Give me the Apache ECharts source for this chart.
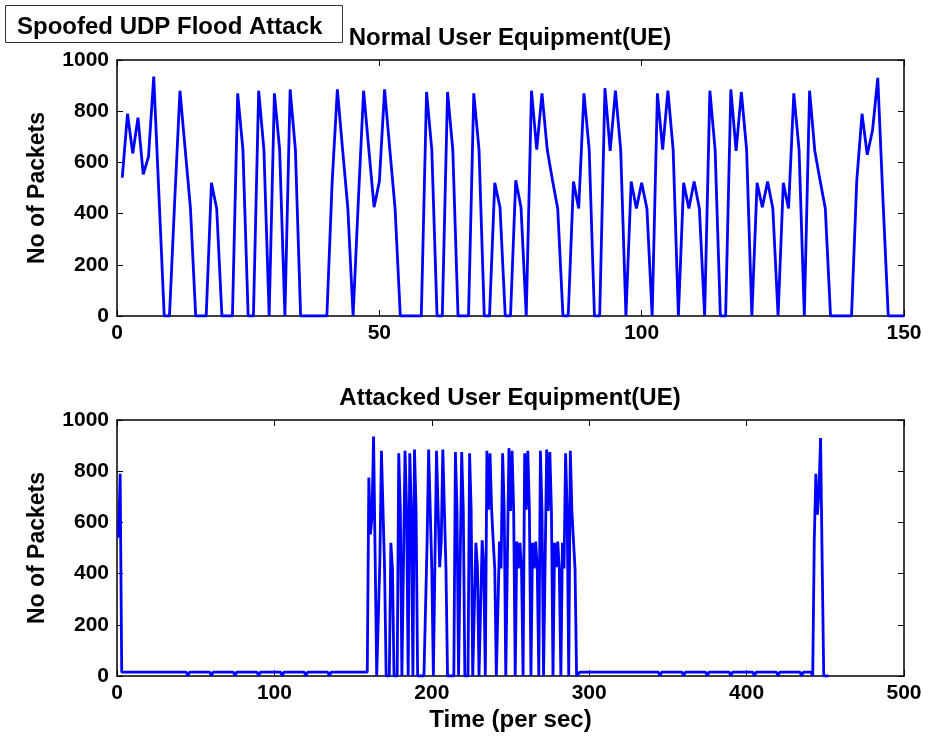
<!DOCTYPE html>
<html>
<head>
<meta charset="utf-8">
<script src="https://cdn.jsdelivr.net/npm/echarts@6/dist/echarts.min.js"></script>
<style>
html,body{margin:0;padding:0;background:#fff;}
#chart{width:928px;height:739px;}
</style>
</head>
<body>
<div id="chart"></div>
<script>
// ---- data ----
const figureLabel = 'Spoofed UDP Flood Attack';
const titleNormal = 'Normal User Equipment(UE)';
const titleAttacked = 'Attacked User Equipment(UE)';
const xAxisName = 'Time (per sec)';
const yAxisName = 'No of Packets';

const normalTicksX = [0, 50, 100, 150];
const attackedTicksX = [0, 100, 200, 300, 400, 500];
const packetTicks = [0, 200, 400, 600, 800, 1000];

// Normal UE: packets at t = 1 .. 150
const normalTime = [
  1,2,3,4,5,6,7,8,9,10,11,12,13,14,15,16,17,18,19,20,
  21,22,23,24,25,26,27,28,29,30,31,32,33,34,35,36,37,38,39,40,
  41,42,43,44,45,46,47,48,49,50,51,52,53,54,55,56,57,58,59,60,
  61,62,63,64,65,66,67,68,69,70,71,72,73,74,75,76,77,78,79,80,
  81,82,83,84,85,86,87,88,89,90,91,92,93,94,95,96,97,98,99,100,
  101,102,103,104,105,106,107,108,109,110,111,112,113,114,115,116,117,118,119,120,
  121,122,123,124,125,126,127,128,129,130,131,132,133,134,135,136,137,138,139,140,
  141,142,143,144,145,146,147,148,149,150
];
const normalPackets = [
  540,790,635,775,553,622,935,470,0,0,450,880,650,420,0,0,0,520,420,0,
  0,0,870,650,0,0,880,650,0,870,650,0,885,650,0,0,0,0,0,0,
  520,885,650,420,0,450,880,650,425,525,885,650,420,0,0,0,0,0,875,650,
  0,0,875,650,0,0,0,870,650,0,0,520,425,0,0,530,425,0,880,650,
  870,650,530,420,0,0,525,420,870,650,0,0,890,645,880,650,0,525,420,520,
  420,0,870,650,880,650,0,520,420,525,420,0,880,650,0,0,885,645,875,650,
  0,520,425,525,420,0,520,420,870,650,0,880,645,530,420,0,0,0,0,0,
  530,790,630,725,930,450,0,0,0,0
];

// Attacked UE: [time, packets]
const attackedTime = [
  1,2,3,44,45,46,59,60,61,74,75,76,89,90,91,104,105,106,119,120,121,134,135,136,159,
  160,161,162,163,164,165,166,167,168,169,170,171,172,173,174,175,176,177,178,179,
  180,181,182,183,184,185,186,187,188,189,190,191,192,193,194,195,196,197,198,199,
  200,201,202,203,204,205,206,207,208,209,210,211,212,213,214,215,216,217,218,219,
  220,221,222,223,224,225,226,227,228,229,230,231,232,233,234,235,236,237,238,239,
  240,241,242,243,244,245,246,247,248,249,250,251,252,253,254,255,256,257,258,259,
  260,261,262,263,264,265,266,267,268,269,270,271,272,273,274,275,276,277,278,279,
  280,281,282,283,284,285,286,287,288,289,290,291,292,293,294,
  344,345,346,359,360,361,374,375,376,389,390,391,404,405,406,419,420,421,434,435,436,441,
  442,443,444,445,446,447,448,449,450,451,452
];
const attackedPackets = [
  540,790,15,15,0,15,15,0,15,15,0,15,15,0,15,15,0,15,15,0,15,15,0,15,15,
  775,553,622,935,470,0,0,450,880,650,420,0,0,0,520,420,0,0,0,870,
  650,0,0,880,650,0,870,650,0,885,650,0,0,0,0,0,0,520,885,650,
  420,0,450,880,650,425,525,885,650,420,0,0,0,0,0,875,650,0,0,875,
  650,0,0,0,870,650,0,0,520,425,0,0,530,425,0,880,650,870,650,530,
  420,0,0,525,420,870,650,0,0,890,645,880,650,0,525,420,520,420,0,870,
  650,880,650,0,520,420,525,420,0,880,650,0,0,885,645,875,650,0,520,425,
  525,420,0,520,420,870,650,0,880,645,530,420,0,0,15,
  15,0,15,15,0,15,15,0,15,15,0,15,15,0,15,15,0,15,15,0,15,15,
  0,530,790,630,725,930,450,0,0,0,0
];

// ---- chart ----
const FONT = '"Liberation Sans", Arial, Helvetica, sans-serif';
const BLUE = '#0000ff';
const chart = echarts.init(document.getElementById('chart'), null, {renderer: 'canvas'});

const pair = (xs, ys) => xs.map((x, i) => [x, ys[i]]);
const plain = v => String(v);

function xAx(grid, ticks, pos, showLabel, name) {
  return {
    type: 'value', gridIndex: grid, position: pos,
    min: ticks[0], max: ticks[ticks.length - 1], interval: ticks[1] - ticks[0],
    axisLine: {show: true, onZero: false, lineStyle: {color: '#000', width: 1.5}},
    axisTick: {show: true, inside: true, length: 6, lineStyle: {color: '#000', width: 1}},
    axisLabel: {show: showLabel, color: '#000', fontFamily: FONT, fontWeight: 'bold', fontSize: 21, margin: 7, formatter: plain},
    splitLine: {show: false},
    name: name || '', nameLocation: 'middle', nameGap: 32,
    nameTextStyle: {color: '#000', fontFamily: FONT, fontWeight: 'bold', fontSize: 24}
  };
}
function yAx(grid, pos, showLabel, name) {
  return {
    type: 'value', gridIndex: grid, position: pos,
    min: packetTicks[0], max: packetTicks[packetTicks.length - 1], interval: packetTicks[1] - packetTicks[0],
    axisLine: {show: true, onZero: false, lineStyle: {color: '#000', width: 1.5}},
    axisTick: {show: true, inside: true, length: 6, lineStyle: {color: '#000', width: 1}},
    axisLabel: {show: showLabel, color: '#000', fontFamily: FONT, fontWeight: 'bold', fontSize: 21, margin: 8, formatter: plain},
    splitLine: {show: false},
    name: name || '', nameLocation: 'middle', nameGap: 68, nameRotate: 90,
    nameTextStyle: {color: '#000', fontFamily: FONT, fontWeight: 'bold', fontSize: 23}
  };
}

const option = {
  backgroundColor: '#fff',
  animation: false,
  grid: [
    {left: 117, right: 24, top: 60, height: 256, containLabel: false},
    {left: 117, right: 24, top: 420, height: 256, containLabel: false}
  ],
  xAxis: [
    xAx(0, normalTicksX, 'bottom', true),
    xAx(0, normalTicksX, 'top', false),
    xAx(1, attackedTicksX, 'bottom', true, xAxisName),
    xAx(1, attackedTicksX, 'top', false)
  ],
  yAxis: [
    yAx(0, 'left', true, yAxisName),
    yAx(0, 'right', false),
    yAx(1, 'left', true, yAxisName),
    yAx(1, 'right', false)
  ],
  series: [
    {type: 'line', xAxisIndex: 0, yAxisIndex: 0, data: pair(normalTime, normalPackets),
     showSymbol: false, symbol: 'none', lineStyle: {color: BLUE, width: 2.8}, itemStyle: {color: BLUE}},
    {type: 'line', xAxisIndex: 2, yAxisIndex: 2, data: pair(attackedTime, attackedPackets),
     showSymbol: false, symbol: 'none', lineStyle: {color: BLUE, width: 2.8}, itemStyle: {color: BLUE}}
  ],
  graphic: [
    {type: 'rect', shape: {x: 5.5, y: 5.5, width: 337, height: 37},
     style: {fill: '#fff', stroke: '#333', lineWidth: 1}},
    {type: 'text', style: {x: 17, y: 27, text: figureLabel, fill: '#000',
      font: 'bold 24px ' + FONT, textAlign: 'left', textVerticalAlign: 'middle'}},
    {type: 'text', style: {x: 510, y: 38, text: titleNormal, fill: '#000',
      font: 'bold 24px ' + FONT, textAlign: 'center', textVerticalAlign: 'middle'}},
    {type: 'text', style: {x: 510, y: 398, text: titleAttacked, fill: '#000',
      font: 'bold 24px ' + FONT, textAlign: 'center', textVerticalAlign: 'middle'}}
  ]
};
chart.setOption(option);
</script>
</body>
</html>
